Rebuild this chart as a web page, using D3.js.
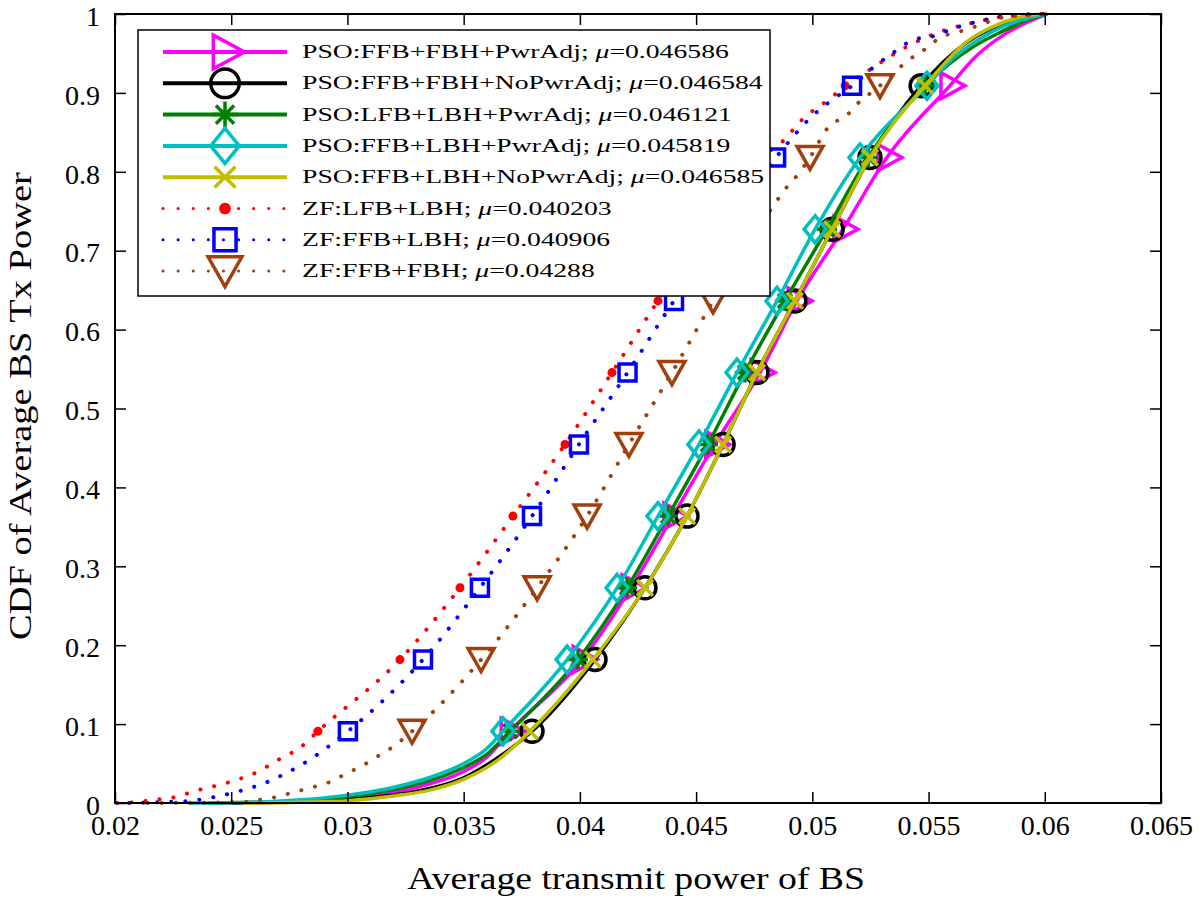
<!DOCTYPE html>
<html><head><meta charset="utf-8">
<script src="https://cdn.jsdelivr.net/npm/d3@7"></script>
<style>body{margin:0;background:#fff}svg{display:block}</style>
</head><body>
<svg id="c" width="1200" height="902"></svg>
<script>
// ---------- data ----------
const xTicks = [0.02,0.025,0.03,0.035,0.04,0.045,0.05,0.055,0.06,0.065];
const xTickLabels = ["0.02","0.025","0.03","0.035","0.04","0.045","0.05","0.055","0.06","0.065"];
const yTicks = [0,0.1,0.2,0.3,0.4,0.5,0.6,0.7,0.8,0.9,1];
const yTickLabels = ["0","0.1","0.2","0.3","0.4","0.5","0.6","0.7","0.8","0.9","1"];
const xTitle = "Average transmit power of BS";
const yTitle = "CDF of Average BS Tx Power";

const cdfLevels = [0.0909,0.1818,0.2727,0.3636,0.4545,0.5455,0.6364,0.7273,0.8182,0.9091];

const seriesNames = ["PSO:FFB+FBH+PwrAdj; ","PSO:FFB+FBH+NoPwrAdj; ","PSO:LFB+LBH+PwrAdj; ","PSO:FFB+LBH+PwrAdj; ","PSO:FFB+LBH+NoPwrAdj; ","ZF:LFB+LBH; ","ZF:FFB+LBH; ","ZF:FFB+FBH; "];
const seriesMu = ["0.046586","0.046584","0.046121","0.045819","0.046585","0.040203","0.040906","0.04288"];
const seriesColors = ["#ff00ff","#000000","#008000","#00bfbf","#bfbf00","#ff0000","#0000ff","#a0410d"];
const seriesMarkers = ["triR","circle","star","diamond","x","dot","square","triD"];
const seriesDotted = [false,false,false,false,false,true,true,true];

// PSO:FFB+FBH+PwrAdj
const markX0 = [0.0370,0.0401,0.0422,0.0440,0.0458,0.04775,0.04934,0.05132,0.05321,0.05592];
const tailX0 = [0.0245,0.027,0.029,0.031,0.033,0.035,0.036,0.0571,0.0581,0.0592,0.0601];
const tailY0 = [0,0.001,0.004,0.009,0.02,0.04,0.058,0.948,0.971,0.989,1];
// PSO:FFB+FBH+NoPwrAdj
const markX1 = [0.03794,0.04065,0.0428,0.04461,0.04616,0.04762,0.04925,0.05085,0.05248,0.05468];
const tailX1 = [0.025,0.027,0.029,0.031,0.033,0.035,0.0365,0.0566,0.0578,0.0595,0.0601];
const tailY1 = [0,0.001,0.003,0.007,0.015,0.032,0.058,0.963,0.983,0.998,1];
// PSO:LFB+LBH+PwrAdj
const markX2 = [0.0370,0.03992,0.04203,0.04379,0.04551,0.0471,0.04882,0.05063,0.0524,0.05485];
const tailX2 = [0.024,0.026,0.028,0.030,0.032,0.0335,0.035,0.036,0.0569,0.0581,0.0595,0.0601];
const tailY2 = [0,0.001,0.003,0.008,0.017,0.028,0.045,0.062,0.958,0.977,0.995,1];
// PSO:FFB+LBH+PwrAdj
const markX3 = [0.03669,0.03945,0.0416,0.04336,0.04512,0.04676,0.04848,0.05012,0.05205,0.05493];
const tailX3 = [0.0232,0.026,0.028,0.030,0.032,0.0335,0.035,0.036,0.05605,0.05734,0.05893,0.0601];
const tailY3 = [0,0.001,0.004,0.01,0.02,0.032,0.05,0.069,0.944,0.971,0.992,1];
// PSO:FFB+LBH+NoPwrAdj
const markX4 = [0.03785,0.04056,0.0428,0.04461,0.04616,0.04762,0.04925,0.05085,0.05248,0.05485];
const tailX4 = [0.0255,0.028,0.030,0.032,0.0335,0.035,0.0365,0.05665,0.05777,0.0595,0.0601];
const tailY4 = [0,0.001,0.003,0.009,0.016,0.03,0.055,0.965,0.984,0.999,1];
// ZF:LFB+LBH
const markX5 = [0.02873,0.03226,0.03484,0.03712,0.03936,0.04138,0.04336,0.0455,0.0478,0.05141];
const tailX5 = [0.0201,0.0208,0.0214,0.0220,0.0227,0.0233,0.0245,0.0252,0.0261,0.0271,0.0280,0.0487,0.04956,0.05085,0.05235,0.05356,0.05493,0.05622,0.05708,0.05807,0.0601];
const tailY5 = [0,0.001,0.003,0.005,0.008,0.014,0.023,0.029,0.039,0.056,0.071,0.838,0.866,0.895,0.927,0.95,0.971,0.984,0.99,0.996,1];
// ZF:FFB+LBH
const markX6 = [0.03002,0.03325,0.0357,0.03794,0.03996,0.04205,0.04405,0.0463,0.04844,0.05171];
const tailX6 = [0.0206,0.0219,0.0233,0.0245,0.0251,0.0257,0.0265,0.0271,0.0280,0.0292,0.04904,0.0499,0.05085,0.05248,0.05334,0.05433,0.05536,0.05592,0.05708,0.0588,0.0601];
const tailY6 = [0,0.001,0.003,0.009,0.013,0.018,0.026,0.034,0.048,0.072,0.84,0.868,0.891,0.929,0.948,0.967,0.973,0.98,0.99,0.999,1];
// ZF:FFB+FBH
const markX7 = [0.03278,0.03575,0.03816,0.04031,0.04211,0.04396,0.04573,0.0475,0.0499,0.05291];
const tailX7 = [0.0214,0.0255,0.0264,0.0270,0.0276,0.0285,0.0291,0.0300,0.0308,0.0314,0.0319,0.04826,0.0487,0.04947,0.0507,0.0515,0.0519,0.05364,0.05407,0.05493,0.05549,0.05627,0.05721,0.05807,0.0601];
const tailY7 = [0,0.001,0.005,0.008,0.013,0.02,0.025,0.038,0.05,0.061,0.07,0.754,0.773,0.80,0.857,0.872,0.885,0.929,0.94,0.957,0.97,0.977,0.986,0.995,1];

const markXs = [markX0,markX1,markX2,markX3,markX4,markX5,markX6,markX7];
const tailXs = [tailX0,tailX1,tailX2,tailX3,tailX4,tailX5,tailX6,tailX7];
const tailYs = [tailY0,tailY1,tailY2,tailY3,tailY4,tailY5,tailY6,tailY7];

// ---------- layout ----------
const L = 115, R = 1161, T = 14, B = 803;
const FONT = "'Liberation Serif', 'DejaVu Serif', serif";
const svg = d3.select("#c");
const x = d3.scaleLinear().domain([0.02,0.065]).range([L,R]);
const y = d3.scaleLinear().domain([0,1]).range([B,T]);

svg.append("defs").append("clipPath").attr("id","clip")
  .append("rect").attr("x",L).attr("y",T-2).attr("width",R-L).attr("height",B-T+4);

function drawMarker(g, type, color, s) {
  const sw = 3.5;
  if (type === "circle") {
    g.append("circle").attr("r",11*s).attr("fill","none").attr("stroke",color).attr("stroke-width",sw);
    return;
  }
  if (type === "dot") {
    g.append("circle").attr("r",4.5*s).attr("fill",color);
    return;
  }
  let d;
  if (type === "triR") d = `M${-9*s},${-13*s}L${15*s},0L${-9*s},${13*s}Z`;
  else if (type === "diamond") d = `M0,${-13.5*s}L${11*s},0L0,${13.5*s}L${-11*s},0Z`;
  else if (type === "star") d = `M0,${-10*s}V${10*s}M${-10*s},0H${10*s}M${-7*s},${-7*s}L${7*s},${7*s}M${-7*s},${7*s}L${7*s},${-7*s}`;
  else if (type === "x") d = `M${-8*s},${-8*s}L${8*s},${8*s}M${-8*s},${8*s}L${8*s},${-8*s}`;
  else if (type === "square") d = `M${-8.5*s},${-8.5*s}H${8.5*s}V${8.5*s}H${-8.5*s}Z`;
  else if (type === "triD") d = `M${-13*s},${-11*s}H${13*s}L0,${12*s}Z`;
  g.append("path").attr("d",d).attr("fill","none").attr("stroke",color)
    .attr("stroke-width",sw).attr("stroke-linejoin","miter");
}

const line = d3.line().x(d=>x(d[0])).y(d=>y(d[1])).curve(d3.curveMonotoneX);
const plot = svg.append("g").attr("clip-path","url(#clip)");

seriesNames.forEach((nm,i)=>{
  const pts = markXs[i].map((v,k)=>[v,cdfLevels[k]])
    .concat(tailXs[i].map((v,k)=>[v,tailYs[i][k]]))
    .sort((a,b)=>a[0]-b[0]);
  const p = plot.append("path").datum(pts).attr("d",line)
    .attr("fill","none").attr("stroke",seriesColors[i]);
  if (seriesDotted[i]) p.attr("stroke-width",4).attr("stroke-dasharray","0.1 14").attr("stroke-linecap","round");
  else p.attr("stroke-width",3.5).attr("stroke-linejoin","round");
  markXs[i].forEach((v,k)=>{
    const g = plot.append("g").attr("transform",`translate(${x(v)},${y(cdfLevels[k])})`);
    drawMarker(g, seriesMarkers[i], seriesColors[i], 1);
  });
});

// ---------- axes ----------
const tickLen = 11;
const xb = svg.append("g").attr("transform",`translate(0,${B})`)
  .call(d3.axisBottom(x).tickValues(xTicks).tickSize(-tickLen).tickSizeOuter(0).tickPadding(15)
    .tickFormat((d,i)=>xTickLabels[i]));
const yl = svg.append("g").attr("transform",`translate(${L},0)`)
  .call(d3.axisLeft(y).tickValues(yTicks).tickSize(-tickLen).tickSizeOuter(0).tickPadding(15)
    .tickFormat((d,i)=>yTickLabels[i]));
const xt = svg.append("g").attr("transform",`translate(0,${T})`)
  .call(d3.axisTop(x).tickValues(xTicks).tickSize(-tickLen).tickSizeOuter(0).tickFormat(""));
const yr = svg.append("g").attr("transform",`translate(${R},0)`)
  .call(d3.axisRight(y).tickValues(yTicks).tickSize(-tickLen).tickSizeOuter(0).tickFormat(""));
[xb,yl,xt,yr].forEach(g=>{
  g.select(".domain").remove();
  g.selectAll(".tick line").attr("stroke","#000").attr("stroke-width",1.5);
  g.selectAll("text").attr("font-family",FONT).attr("font-size",28).attr("fill","#000");
});
xb.selectAll("text").attr("dy","0.62em");
yl.selectAll("text").attr("dy","0.4em");
svg.append("rect").attr("x",L).attr("y",T).attr("width",R-L).attr("height",B-T)
  .attr("fill","none").attr("stroke","#000").attr("stroke-width",2);

// axis titles
const xtT = svg.append("text").attr("font-family",FONT).attr("font-size",31)
  .attr("text-anchor","middle").text(xTitle);
let w = xtT.node().getComputedTextLength();
xtT.attr("transform",`translate(${(408+864)/2},889) scale(${458/w},1)`);
const ytT = svg.append("text").attr("font-family",FONT).attr("font-size",31)
  .attr("text-anchor","middle").text(yTitle);
w = ytT.node().getComputedTextLength();
ytT.attr("transform",`translate(31,406) rotate(-90) scale(${468/w},1)`);

// ---------- legend ----------
const lg = svg.append("g");
lg.append("rect").attr("x",138).attr("y",30).attr("width",632).attr("height",266)
  .attr("fill","#fff").attr("stroke","#000").attr("stroke-width",1.5);
const rowY0 = 52, rowStep = 31.3;
const texts = [];
seriesNames.forEach((nm,i)=>{
  const yy = rowY0 + i*rowStep;
  const l = lg.append("line").attr("x1",163).attr("x2",287).attr("y1",yy).attr("y2",yy)
    .attr("stroke",seriesColors[i]);
  if (seriesDotted[i]) l.attr("stroke-width",3).attr("stroke-dasharray","0.1 15").attr("stroke-linecap","round");
  else l.attr("stroke-width",4);
  const g = lg.append("g").attr("transform",`translate(225,${yy})`);
  drawMarker(g, seriesMarkers[i], seriesColors[i], 1.3);
  const t = lg.append("text").attr("font-family",FONT).attr("font-size",18)
    .attr("dy","0.34em");
  t.append("tspan").text(nm);
  t.append("tspan").attr("font-style","italic").text("μ");
  t.append("tspan").text("=" + seriesMu[i]);
  texts.push([t,yy]);
});
const w0 = texts[0][0].node().getComputedTextLength();
const sx = 427 / w0;
texts.forEach(([t,yy])=>t.attr("transform",`translate(302,${yy}) scale(${sx},1)`));
</script>
</body></html>
